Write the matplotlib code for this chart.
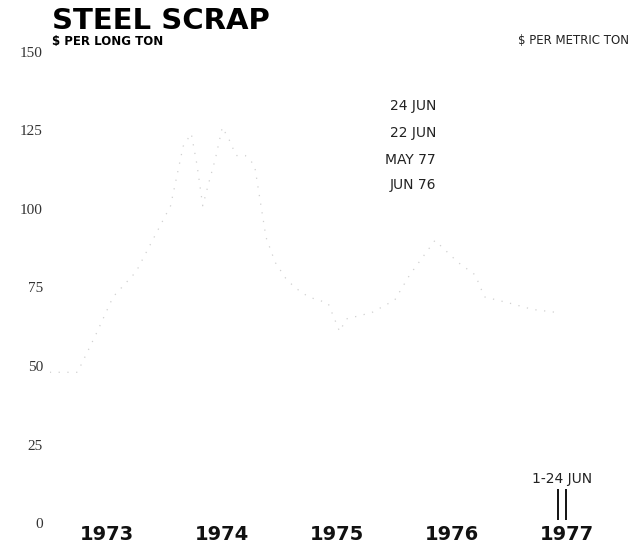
import numpy as np
import matplotlib
matplotlib.use("Agg")
import matplotlib.pyplot as plt

# Steel scrap price, $ per long ton (year as decimal)
dates = [1973.00, 1973.12, 1973.24, 1973.40, 1973.55, 1973.75, 1973.95,
         1974.05, 1974.16, 1974.23, 1974.28, 1974.33, 1974.38, 1974.44,
         1974.50, 1974.56, 1974.62, 1974.70, 1974.78, 1974.88, 1974.96,
         1975.05, 1975.13, 1975.25, 1975.42, 1975.52, 1975.58, 1975.80,
         1976.00, 1976.13, 1976.35, 1976.55, 1976.70, 1976.78, 1977.00,
         1977.20, 1977.42]
price = [48, 48, 48, 60, 72, 80, 94,
         101, 120, 124, 114, 101, 108, 116,
         126, 122, 117, 117, 114, 91, 83,
         78, 75, 72, 70, 61, 65, 67,
         71, 79, 90, 83, 79, 72, 70,
         68, 67]

years = [1973, 1974, 1975, 1976, 1977]
yticks = [0, 25, 50, 75, 100, 125, 150]
june_marks = [1977.42, 1977.49]   # 1 JUN and 24 JUN 1977
june_mark_top = 11

fig = plt.figure(figsize=(6.31, 5.46), dpi=100)
ax = fig.add_axes([0.079, 0.042, 0.911, 0.863])

ax.plot(dates, price, color="#d0d0d0", lw=0.9, linestyle=(0, (1, 6)))
ax.vlines(june_marks, 1, june_mark_top, color="black", lw=1.3)
ax.text(np.mean(june_marks), june_mark_top + 3, "1-24 JUN", ha="center",
        va="center", fontsize=10, color="#222222")

ax.set_xlim(1973.0, 1978.0)
ax.set_ylim(0, 150)
for s in ax.spines.values():
    s.set_visible(False)

ax.set_yticks(yticks)
ax.set_yticklabels([str(v) for v in yticks], family="Liberation Serif",
                   fontsize=11, color="#333333")
ax.set_xticks([y + 0.5 for y in years])
ax.set_xticklabels([str(y) for y in years], fontweight="bold", fontsize=14,
                   color="#111111")
ax.tick_params(axis="y", length=0, pad=5)
ax.tick_params(axis="x", length=0, pad=1.5)

# headings
fig.text(52 / 631, 1 - 21 / 546, "STEEL SCRAP", fontsize=21, fontweight="bold",
         va="center", ha="left")
fig.text(52 / 631, 1 - 42 / 546, "$ PER LONG TON", fontsize=8.5, fontweight="bold",
         va="center", ha="left")
fig.text(629 / 631, 1 - 40 / 546, "$ PER METRIC TON", fontsize=8.5,
         va="center", ha="right", color="#222222")

# legend-style date notes
for label, y in [("24 JUN", 106), ("22 JUN", 133), ("MAY 77", 160), ("JUN 76", 185)]:
    fig.text(436 / 631, 1 - y / 546, label, fontsize=10, va="center",
             ha="right", color="#222222")

fig.savefig("out.png", dpi=100, facecolor="white")
